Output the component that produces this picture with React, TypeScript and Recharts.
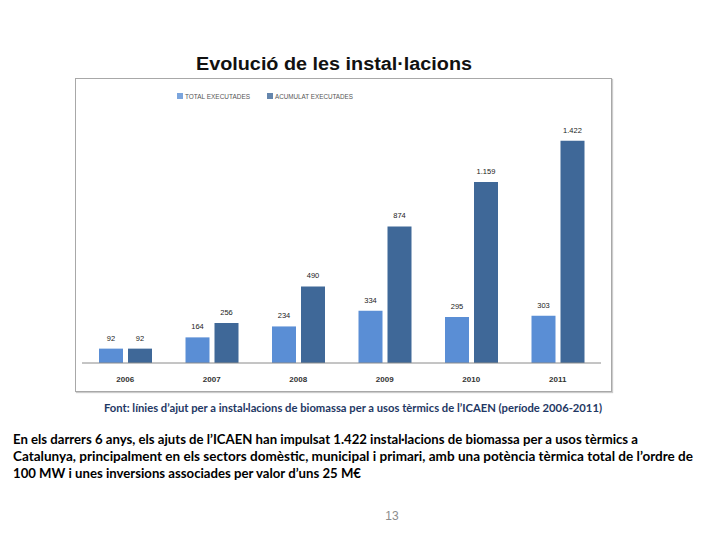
import React from "react";
import { BarChart, Bar, XAxis, YAxis, LabelList } from "recharts";

const years = ["2006", "2007", "2008", "2009", "2010", "2011"];
const totalExecutades = [92, 164, 234, 334, 295, 303];
const acumulatExecutades = [92, 256, 490, 874, 1159, 1422];
const seriesNames = ["TOTAL EXECUTADES", "ACUMULAT EXECUTADES"];
const seriesColors = ["#5A8ED5", "#3F6898"];

const titleText = "Evolució de les instal·lacions";
const sourceText =
  "Font: línies d’ajut per a instal·lacions de biomassa per a usos tèrmics de l’ICAEN (període 2006-2011)";
const bodyLines = [
  "En els darrers 6 anys, els ajuts de l’ICAEN han impulsat 1.422 instal·lacions de biomassa per a usos tèrmics a",
  "Catalunya, principalment en els sectors domèstic, municipal i primari, amb una potència tèrmica total de l’ordre de",
  "100 MW i unes inversions associades per valor d’uns 25 M€",
];
const bodyLineLengths = [625, 680, 348];
const pageNumber = "13";

const data = years.map((y, i) => ({
  year: y,
  total: totalExecutades[i],
  acumulat: acumulatExecutades[i],
}));

const fmt = (v: any) => {
  const n = Number(v);
  return n >= 1000 ? String(n).replace(/\B(?=(\d{3})+(?!\d))/g, ".") : String(n);
};

const chartFont = "'Liberation Sans', Arial, sans-serif";
const bodyFont = "Lato, 'Open Sans', sans-serif";

export default function App() {
  return (
    <div style={{ position: "relative", width: 720, height: 540, margin: -8, background: "#fff", overflow: "hidden" }}>
      <div
        style={{
          position: "absolute",
          left: 75,
          top: 78,
          width: 535,
          height: 312,
          border: "1px solid #A8A8A8",
          boxShadow: "1px 1px 1px #ccc",
        }}
      >
        <BarChart
          width={535}
          height={312}
          data={data}
          margin={{ top: 34, right: 10, bottom: 0, left: 6 }}
          barSize={24}
          barGap={5}
        >
          <XAxis
            dataKey="year"
            height={28}
            axisLine={{ stroke: "#8A8A8A" }}
            tickLine={false}
            tick={{ fontSize: 8, fontWeight: "bold", fill: "#333", fontFamily: chartFont }}
            tickMargin={7}
          />
          <YAxis hide domain={[0, 1600]} />
          <Bar dataKey="total" name={seriesNames[0]} fill={seriesColors[0]} isAnimationActive={false}>
            <LabelList
              dataKey="total"
              position="top"
              offset={8}
              formatter={fmt}
              style={{ fontSize: 7.5, fill: "#222", fontFamily: chartFont }}
            />
          </Bar>
          <Bar dataKey="acumulat" name={seriesNames[1]} fill={seriesColors[1]} isAnimationActive={false}>
            <LabelList
              dataKey="acumulat"
              position="top"
              offset={8}
              formatter={fmt}
              style={{ fontSize: 7.5, fill: "#222", fontFamily: chartFont }}
            />
          </Bar>
        </BarChart>
      </div>
      <svg width={720} height={540} style={{ position: "absolute", left: 0, top: 0, pointerEvents: "none" }}>
        <text
          x={196}
          y={70}
          textLength={276}
          lengthAdjust="spacingAndGlyphs"
          fontFamily="'Liberation Sans', Arial, sans-serif"
          fontSize={18}
          fontWeight="bold"
          fill="#111"
        >
          {titleText}
        </text>
        {/* legend */}
        <rect x={177} y={93} width={6} height={6} fill={seriesColors[0]} opacity={0.8} />
        <text x={185} y={99} textLength={65} lengthAdjust="spacingAndGlyphs" fontFamily={chartFont} fontSize={7} fill="#555">
          {seriesNames[0]}
        </text>
        <rect x={267} y={93} width={6} height={6} fill={seriesColors[1]} opacity={0.8} />
        <text x={275} y={99} textLength={78} lengthAdjust="spacingAndGlyphs" fontFamily={chartFont} fontSize={7} fill="#555">
          {seriesNames[1]}
        </text>
        <text
          x={104}
          y={412}
          textLength={498}
          lengthAdjust="spacingAndGlyphs"
          fontFamily={bodyFont}
          fontSize={11.5}
          fontWeight="bold"
          fill="#1F3864"
        >
          {sourceText}
        </text>
        {bodyLines.map((line, i) => (
          <text
            key={i}
            x={13}
            y={444 + i * 17}
            textLength={bodyLineLengths[i]}
            lengthAdjust="spacingAndGlyphs"
            fontFamily={bodyFont}
            fontSize={13.5}
            fontWeight="bold"
            fill="#000"
          >
            {line}
          </text>
        ))}
        <text x={392} y={520} textAnchor="middle" fontFamily={chartFont} fontSize={12} fill="#8C8C8C">
          {pageNumber}
        </text>
      </svg>
    </div>
  );
}
